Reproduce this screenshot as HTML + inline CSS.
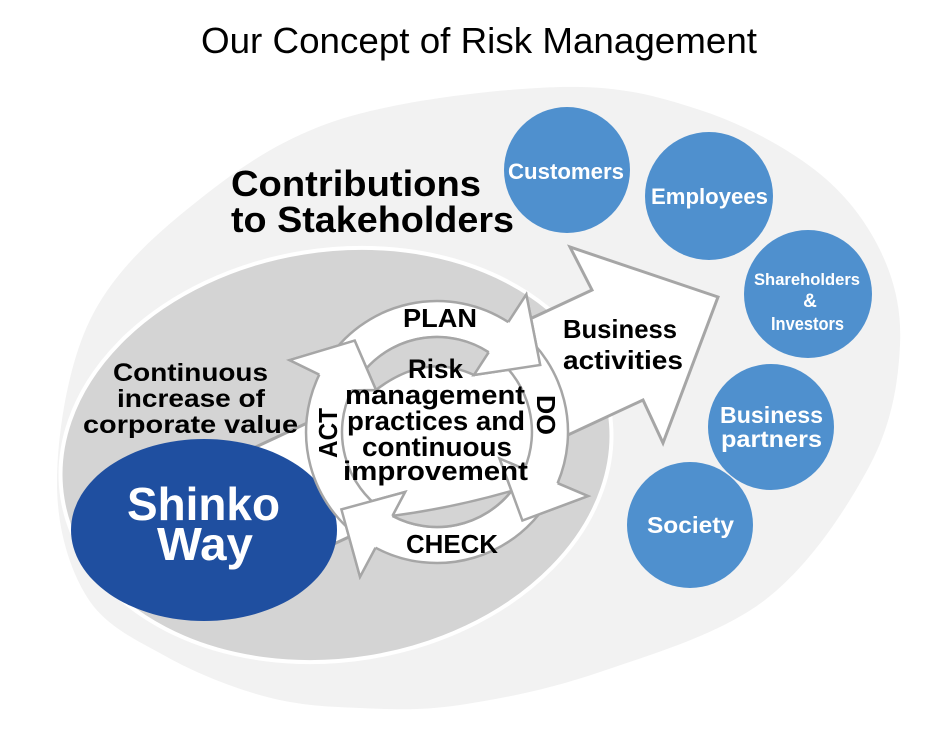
<!DOCTYPE html>
<html>
<head>
<meta charset="utf-8">
<style>
html,body{margin:0;padding:0;background:#fff;}
svg{display:block;}
</style>
</head>
<body>
<svg width="946" height="739" viewBox="0 0 946 739" xmlns="http://www.w3.org/2000/svg" font-family="'Liberation Sans', Arial, sans-serif">
<rect width="946" height="739" fill="#fff"/>

<!-- outer light gray shape -->
<path d="M560,87 C620.3,85.3 657.5,96.2 700,110 C742.5,123.8 785,146.7 815,170 C845,193.3 865.8,220.8 880,250 C894.2,279.2 901.7,309.2 900,345 C898.3,380.8 892.5,422.5 870,465 C847.5,507.5 810,565.5 765,600 C720,634.5 650.8,654.5 600,672 C549.2,689.5 500,699 460,705 C420,711 392.2,709.3 360,708 C327.8,706.7 299.2,705.5 267,697 C234.8,688.5 197,673.7 167,657 C137,640.3 105.3,626.5 87,597 C68.7,567.5 56.5,526.2 57,480 C57.5,433.8 67.8,365.5 90,320 C112.2,274.5 148.7,240.3 190,207 C231.3,173.7 276.3,140 338,120 C399.7,100 499.7,88.7 560,87 Z" fill="#f2f2f2"/>

<!-- inner gray ellipse -->
<ellipse cx="336" cy="455" rx="277" ry="205" transform="rotate(-9 336 455)" fill="#d4d4d4" stroke="#ffffff" stroke-width="4"/>

<!-- big arrow -->
<path d="M200,473 L592,290 L570,247 L718,297 L663,443 L643,400 L250,583 Z" fill="#fff" stroke="#a6a6a6" stroke-width="3" stroke-linejoin="miter"/>

<!-- Shinko Way -->
<ellipse cx="204" cy="530" rx="133" ry="91" fill="#1f4fa0"/>

<!-- cycle -->
<circle cx="437" cy="432" r="96" fill="#fff"/>
<g fill="#fff" stroke="#a6a6a6" stroke-width="2.5" stroke-linejoin="miter">
  <!-- PLAN -->
  <path d="M325.9,362.6 A131,131 0 0 1 508.3,322.1 L526.3,294.5 L540.2,365 L474,375 L488.7,352.3 A95,95 0 0 0 356.4,381.7 Z"/>
  <!-- DO -->
  <path d="M519.4,330.2 A131,131 0 0 1 557.6,483.2 L588,496.1 L522.4,520.5 L499.6,458.6 L524.4,469.1 A95,95 0 0 0 496.8,358.2 Z"/>
  <!-- CHECK -->
  <path d="M551.6,495.5 A131,131 0 0 1 375.5,547.7 L360,576.8 L341.4,509.4 L405.1,492 L392.4,515.9 A95,95 0 0 0 520.1,478.1 Z"/>
  <!-- ACT -->
  <path d="M363.7,540.6 A131,131 0 0 1 319.3,374.6 L289.6,360.1 L354.7,340.6 L376,390 L351.6,390.4 A95,95 0 0 0 383.9,510.8 Z"/>
</g>
<!-- gray lenses -->
<g fill="#d4d4d4" stroke="#a6a6a6" stroke-width="2.5">
  <path d="M366.6,368.2 A95,95 0 0 1 488.7,352.3 L474,375 Q425,352 376,390 Z"/>
  <path d="M511.5,490.9 A95,95 0 0 1 392.4,515.9 Q452,508 511.5,490.9 Z"/>
</g>
<!-- head overlays -->
<g fill="#fff" stroke="#a6a6a6" stroke-width="2.5" stroke-linejoin="miter">
  <path d="M508.3,322.1 L526.3,294.5 L540.2,365 L474,375 L488.7,352.3"/>
  <path d="M557.6,483.2 L588,496.1 L522.4,520.5 L499.6,458.6 L524.4,469.1"/>
  <path d="M375.5,547.7 L360,576.8 L341.4,509.4 L405.1,492 L392.4,515.9"/>
  <path d="M319.3,374.6 L289.6,360.1 L354.7,340.6 L376,390 L351.6,390.4"/>
</g>

<!-- Title -->
<text x="201" y="53" font-size="36" fill="#000" textLength="556" lengthAdjust="spacingAndGlyphs">Our Concept of Risk Management</text>

<!-- Contributions -->
<g font-weight="bold" fill="#000" font-size="36">
  <text x="231" y="196" textLength="250" lengthAdjust="spacingAndGlyphs">Contributions</text>
  <text x="231" y="232" textLength="283" lengthAdjust="spacingAndGlyphs">to Stakeholders</text>
</g>

<!-- Continuous increase -->
<g font-weight="bold" fill="#000" font-size="25">
  <text x="113" y="381" textLength="155" lengthAdjust="spacingAndGlyphs">Continuous</text>
  <text x="117" y="407" textLength="148" lengthAdjust="spacingAndGlyphs">increase of</text>
  <text x="83" y="433" textLength="215" lengthAdjust="spacingAndGlyphs">corporate value</text>
</g>

<!-- Shinko Way -->
<g font-weight="bold" fill="#fff" font-size="46">
  <text x="127" y="520" textLength="153" lengthAdjust="spacingAndGlyphs">Shinko</text>
  <text x="157" y="560" textLength="96" lengthAdjust="spacingAndGlyphs">Way</text>
</g>

<!-- cycle texts -->
<g font-weight="bold" fill="#000">
  <text x="403" y="327" font-size="26" textLength="74" lengthAdjust="spacingAndGlyphs">PLAN</text>
  <text x="406" y="553" font-size="26" textLength="92" lengthAdjust="spacingAndGlyphs">CHECK</text>
  <text transform="translate(337,458) rotate(-90)" x="0" y="0" font-size="26" textLength="50" lengthAdjust="spacingAndGlyphs">ACT</text>
  <text transform="translate(537,395) rotate(90)" x="0" y="0" font-size="26" textLength="40" lengthAdjust="spacingAndGlyphs">DO</text>
  <text x="408" y="378" font-size="27" textLength="55" lengthAdjust="spacingAndGlyphs">Risk</text>
  <text x="345" y="404" font-size="27" textLength="180" lengthAdjust="spacingAndGlyphs">management</text>
  <text x="347" y="430" font-size="27" textLength="178" lengthAdjust="spacingAndGlyphs">practices and</text>
  <text x="362" y="456" font-size="27" textLength="150" lengthAdjust="spacingAndGlyphs">continuous</text>
  <text x="343" y="480" font-size="27" textLength="185" lengthAdjust="spacingAndGlyphs">improvement</text>
  <text x="563" y="338" font-size="26" textLength="114" lengthAdjust="spacingAndGlyphs">Business</text>
  <text x="563" y="369" font-size="26" textLength="120" lengthAdjust="spacingAndGlyphs">activities</text>
</g>

<!-- stakeholder circles -->
<g fill="#4f90ce">
  <circle cx="567" cy="170" r="63"/>
  <circle cx="709" cy="196" r="64"/>
  <circle cx="808" cy="294" r="64"/>
  <circle cx="771" cy="427" r="63"/>
  <circle cx="690" cy="525" r="63"/>
</g>
<g font-weight="bold" fill="#fff">
  <text x="508" y="179" font-size="22" textLength="116" lengthAdjust="spacingAndGlyphs">Customers</text>
  <text x="651" y="204" font-size="22" textLength="117" lengthAdjust="spacingAndGlyphs">Employees</text>
  <text x="754" y="285" font-size="17" textLength="106" lengthAdjust="spacingAndGlyphs">Shareholders</text>
  <text x="810" y="307" font-size="19" text-anchor="middle">&amp;</text>
  <text x="771" y="330" font-size="18" textLength="73" lengthAdjust="spacingAndGlyphs">Investors</text>
  <text x="720" y="423" font-size="23" textLength="103" lengthAdjust="spacingAndGlyphs">Business</text>
  <text x="721" y="447" font-size="23" textLength="101" lengthAdjust="spacingAndGlyphs">partners</text>
  <text x="647" y="533" font-size="23" textLength="87" lengthAdjust="spacingAndGlyphs">Society</text>
</g>
</svg>
</body>
</html>
